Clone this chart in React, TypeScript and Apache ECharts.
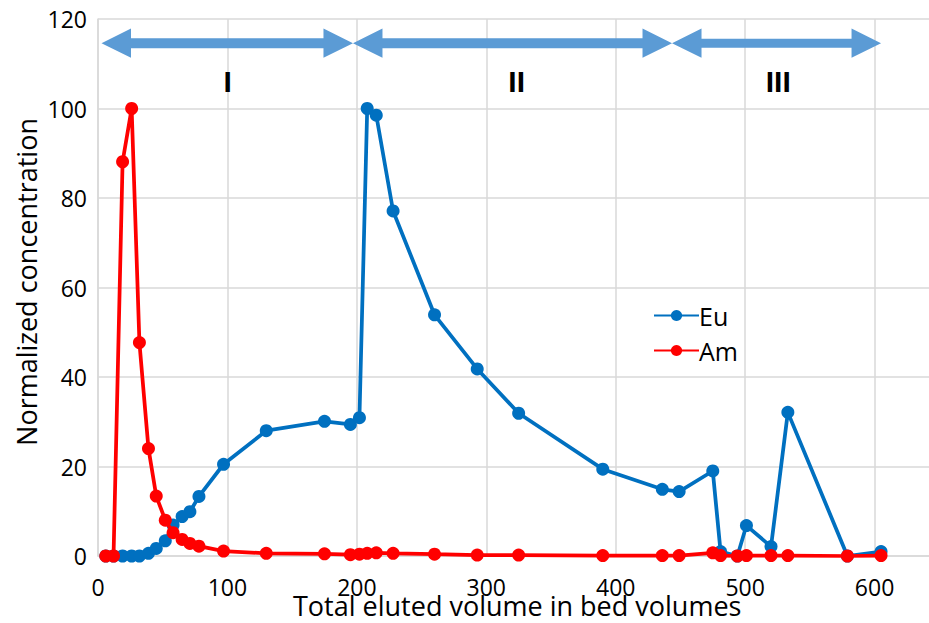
import React, { useEffect, useRef } from "react";
import * as echarts from "echarts";

// Total eluted volume (bed volumes), shared by both series
const volumes = [6, 12, 19, 26, 32, 39, 45, 52, 58, 65, 71, 78, 97, 130, 175, 195, 202, 208, 215, 228, 260, 293, 325, 390, 436, 449, 475, 481, 494, 501, 520, 533, 579, 605];
const euValues = [0, 0, 0, 0, 0, 0.6, 1.7, 3.4, 6.9, 8.8, 9.9, 13.3, 20.5, 28.0, 30.1, 29.4, 30.9, 100, 98.5, 77.1, 53.9, 41.8, 31.9, 19.4, 14.9, 14.4, 19.0, 1.0, 0, 6.8, 2.1, 32.1, 0, 1.0];
const amValues = [0, 0, 88.1, 100, 47.7, 24.0, 13.4, 8.0, 5.2, 3.7, 2.8, 2.2, 1.1, 0.6, 0.5, 0.3, 0.4, 0.6, 0.7, 0.6, 0.4, 0.2, 0.2, 0.1, 0.1, 0.1, 0.7, 0.1, 0, 0.1, 0.1, 0.1, 0, 0.1];

// Elution regions (bed volumes) and their labels
const regionStarts = [2.7, 197, 443.5];
const regionEnds = [197, 443.5, 605];
const regionLabels = ["I", "II", "III"];
const regionLabelX = [100.2, 323.5, 525.6];
const arrowLevel = 114.6;
const labelLevel = 106;

const xTicks = { min: 0, max: 700, interval: 100, lastShown: 600 };
const yTicks = { min: 0, max: 120, interval: 20 };

const FONT = '"Open Sans", "Liberation Sans", sans-serif';
const GRID = "#D9D9D9";
const ARROW = "#5B9BD5";

export default function App() {
  const ref = useRef<HTMLDivElement>(null);

  useEffect(() => {
    if (!ref.current) return;
    const chart = echarts.init(ref.current, null, { renderer: "svg" });

    const regionData = regionStarts.map((s, i) => [s, arrowLevel, regionEnds[i], regionLabelX[i]]);

    chart.setOption({
      animation: false,
      backgroundColor: "#fff",
      textStyle: { fontFamily: FONT },
      grid: { left: 98, top: 19, width: 906, height: 537, containLabel: false },
      xAxis: {
        type: "value",
        min: xTicks.min,
        max: xTicks.max,
        interval: xTicks.interval,
        axisLine: { show: true, lineStyle: { color: GRID, width: 1.5 } },
        axisTick: { show: false },
        splitLine: { show: true, lineStyle: { color: GRID, width: 1.5 } },
        axisLabel: {
          color: "#000",
          fontSize: 23,
          fontFamily: FONT,
          margin: 19,
          formatter: (v: number) => (v > xTicks.lastShown ? "" : String(v)),
        },
      },
      yAxis: {
        type: "value",
        min: yTicks.min,
        max: yTicks.max,
        interval: yTicks.interval,
        axisLine: { show: true, lineStyle: { color: GRID, width: 1.5 } },
        axisTick: { show: false },
        splitLine: { show: true, lineStyle: { color: GRID, width: 1.5 } },
        axisLabel: { color: "#000", fontSize: 23, fontFamily: FONT, margin: 11 },
      },
      legend: {
        data: ["Eu", "Am"],
        orient: "vertical",
        left: 648,
        top: 298,
        itemWidth: 45,
        itemHeight: 14,
        itemGap: 10,
        textStyle: { color: "#000", fontSize: 25, fontFamily: FONT, padding: [0, 0, 0, -5] },
      },
      graphic: [
        {
          type: "text",
          left: 293,
          top: 592,
          style: { text: "Total eluted volume in bed volumes", fontSize: 27, fontFamily: FONT, fill: "#000" },
        },
        {
          type: "text",
          x: 26,
          y: 282,
          rotation: Math.PI / 2,
          style: {
            text: "Normalized concentration",
            fontSize: 27,
            fontFamily: FONT,
            fill: "#000",
            align: "center",
            verticalAlign: "middle",
          },
        },
      ],
      series: [
        {
          name: "Eu",
          type: "line",
          data: volumes.map((v, i) => [v, euValues[i]]),
          symbol: "circle",
          symbolSize: 13,
          color: "#0070C0",
          lineStyle: { width: 3.75, color: "#0070C0" },
          itemStyle: { color: "#0070C0" },
          z: 3,
        },
        {
          name: "Am",
          type: "line",
          data: volumes.map((v, i) => [v, amValues[i]]),
          symbol: "circle",
          symbolSize: 13,
          color: "#FF0000",
          lineStyle: { width: 3.75, color: "#FF0000" },
          itemStyle: { color: "#FF0000" },
          z: 4,
        },
        {
          name: "regions",
          type: "custom",
          clip: false,
          z: 5,
          silent: true,
          data: regionData,
          encode: { x: 0, y: 1 },
          renderItem: (params: any, api: any) => {
            const i = params.dataIndex;
            const a = api.coord([regionStarts[i], arrowLevel]);
            const b = api.coord([regionEnds[i], arrowLevel]);
            const l = api.coord([regionLabelX[i], labelLevel]);
            const L = 29.5;
            const H = 14.7;
            const h = i === 2 ? 4.5 : 5;
            const x0 = a[0];
            const x1 = b[0];
            const yc = a[1];
            const pts = [
              [x0, yc],
              [x0 + L, yc - H],
              [x0 + L, yc - h],
              [x1 - L, yc - h],
              [x1 - L, yc - H],
              [x1, yc],
              [x1 - L, yc + H],
              [x1 - L, yc + h],
              [x0 + L, yc + h],
              [x0 + L, yc + H],
            ];
            return {
              type: "group",
              children: [
                { type: "polygon", shape: { points: pts }, style: { fill: ARROW } },
                {
                  type: "text",
                  x: l[0],
                  y: l[1],
                  style: {
                    text: regionLabels[i],
                    fill: "#000",
                    fontSize: 30,
                    fontWeight: "bold",
                    fontFamily: '"Liberation Sans", Arial, sans-serif',
                    align: "center",
                    verticalAlign: "middle",
                  },
                },
              ],
            };
          },
        },
      ],
    });

    return () => chart.dispose();
  }, []);

  return (
    <div
      style={{
        position: "absolute",
        left: 0,
        top: 0,
        width: 929,
        height: 623,
        overflow: "hidden",
        background: "#fff",
      }}
    >
      <div ref={ref} style={{ width: 1040, height: 623 }} />
    </div>
  );
}
